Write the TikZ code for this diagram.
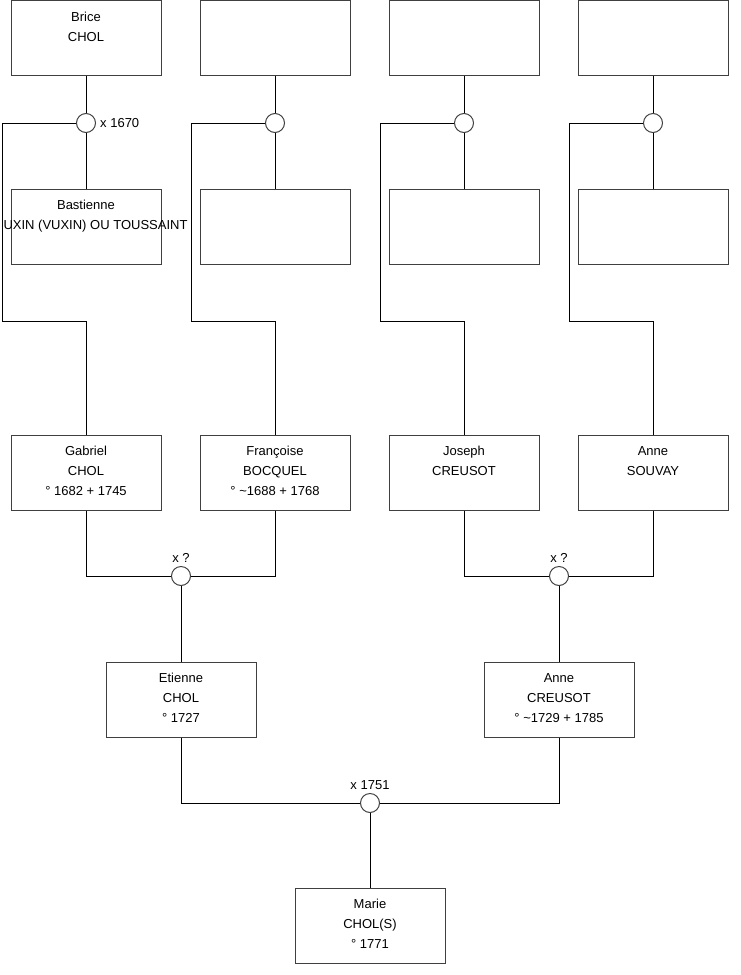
\documentclass[tikz,border=0pt]{standalone}
\usepackage{fontspec}
\setmainfont{Liberation Sans}
\usetikzlibrary{positioning}

\begin{document}
\begin{tikzpicture}[x=1pt, y=-1pt, font=\fontsize{13}{20}\selectfont,
  personne/.style={rectangle, draw=black!75, line width=1pt, minimum width=150pt, minimum height=75pt, inner sep=0pt},
  nom/.style={anchor=north, align=center, inner sep=0pt, yshift=-11.5pt},
  union/.style={circle, draw=black!75, line width=1pt, fill=white, minimum size=19pt, inner sep=0pt},
  lien/.style={line width=1pt}]
  \useasboundingbox (0,0) rectangle (740,975);

  \node[personne] (brice) at (86,38) {};
  \node[personne] (gp2) at (275,38) {};
  \node[personne] (gp3) at (464,38) {};
  \node[personne] (gp4) at (653,38) {};
  \node[nom] (brice-t) at (brice.north) {Brice\\CHOL};

  \node[personne] (bastienne) at (86,226.5) {};
  \node[personne] (gm2) at (275,226.5) {};
  \node[personne] (gm3) at (464,226.5) {};
  \node[personne] (gm4) at (653,226.5) {};
  \node[nom] (bastienne-t) at (bastienne.north) {Bastienne\\\hspace*{19pt}UXIN (VUXIN) OU TOUSSAINT};

  \node[union] (u1) at (86,123) {};
  \node[union] (u2) at (275,123) {};
  \node[union] (u3) at (464,123) {};
  \node[union] (u4) at (653,123) {};
  \node[anchor=west, inner sep=0pt] (u1-l) at (100,123) {x 1670};

  \node[personne] (gabriel) at (86,472.5) {};
  \node[personne] (francoise) at (275,472.5) {};
  \node[personne] (joseph) at (464,472.5) {};
  \node[personne] (anne) at (653,472.5) {};
  \node[nom] (gabriel-t) at (gabriel.north) {Gabriel\\CHOL\\° 1682 + 1745};
  \node[nom] (francoise-t) at (francoise.north) {Françoise\\BOCQUEL\\° \textasciitilde1688 + 1768};
  \node[nom] (joseph-t) at (joseph.north) {Joseph\\CREUSOT};
  \node[nom] (anne-t) at (anne.north) {Anne\\SOUVAY};

  \coordinate (c1) at (2,321);
  \coordinate (c2) at (191,321);
  \coordinate (c3) at (380,321);
  \coordinate (c4) at (569,321);

  \node[union] (u5) at (181,576) {};
  \node[union] (u6) at (559,576) {};
  \node[inner sep=0pt] (u5-l) at (181,558) {x ?};
  \node[inner sep=0pt] (u6-l) at (559,558) {x ?};

  \node[personne] (etienne) at (181,699.5) {};
  \node[personne] (anne2) at (559,699.5) {};
  \node[nom] (etienne-t) at (etienne.north) {Etienne\\CHOL\\° 1727};
  \node[nom] (anne2-t) at (anne2.north) {Anne\\CREUSOT\\° \textasciitilde1729 + 1785};

  \node[union] (u7) at (370,803) {};
  \node[inner sep=0pt] (u7-l) at (370,785) {x 1751};

  \node[personne] (marie) at (370,925.5) {};
  \node[nom] (marie-t) at (marie.north) {Marie\\CHOL(S)\\° 1771};

  \draw[lien] (brice.south) -- (u1.north) (u1.south) -- (bastienne.north);
  \draw[lien] (gp2.south) -- (u2.north) (u2.south) -- (gm2.north);
  \draw[lien] (gp3.south) -- (u3.north) (u3.south) -- (gm3.north);
  \draw[lien] (gp4.south) -- (u4.north) (u4.south) -- (gm4.north);
  \draw[lien] (u1.west) -| (c1) -| (gabriel.north);
  \draw[lien] (u2.west) -| (c2) -| (francoise.north);
  \draw[lien] (u3.west) -| (c3) -| (joseph.north);
  \draw[lien] (u4.west) -| (c4) -| (anne.north);
  \draw[lien] (gabriel.south) |- (u5.west);
  \draw[lien] (francoise.south) |- (u5.east);
  \draw[lien] (joseph.south) |- (u6.west);
  \draw[lien] (anne.south) |- (u6.east);
  \draw[lien] (u5.south) -- (etienne.north);
  \draw[lien] (u6.south) -- (anne2.north);
  \draw[lien] (etienne.south) |- (u7.west);
  \draw[lien] (anne2.south) |- (u7.east);
  \draw[lien] (u7.south) -- (marie.north);
\end{tikzpicture}
\end{document}
